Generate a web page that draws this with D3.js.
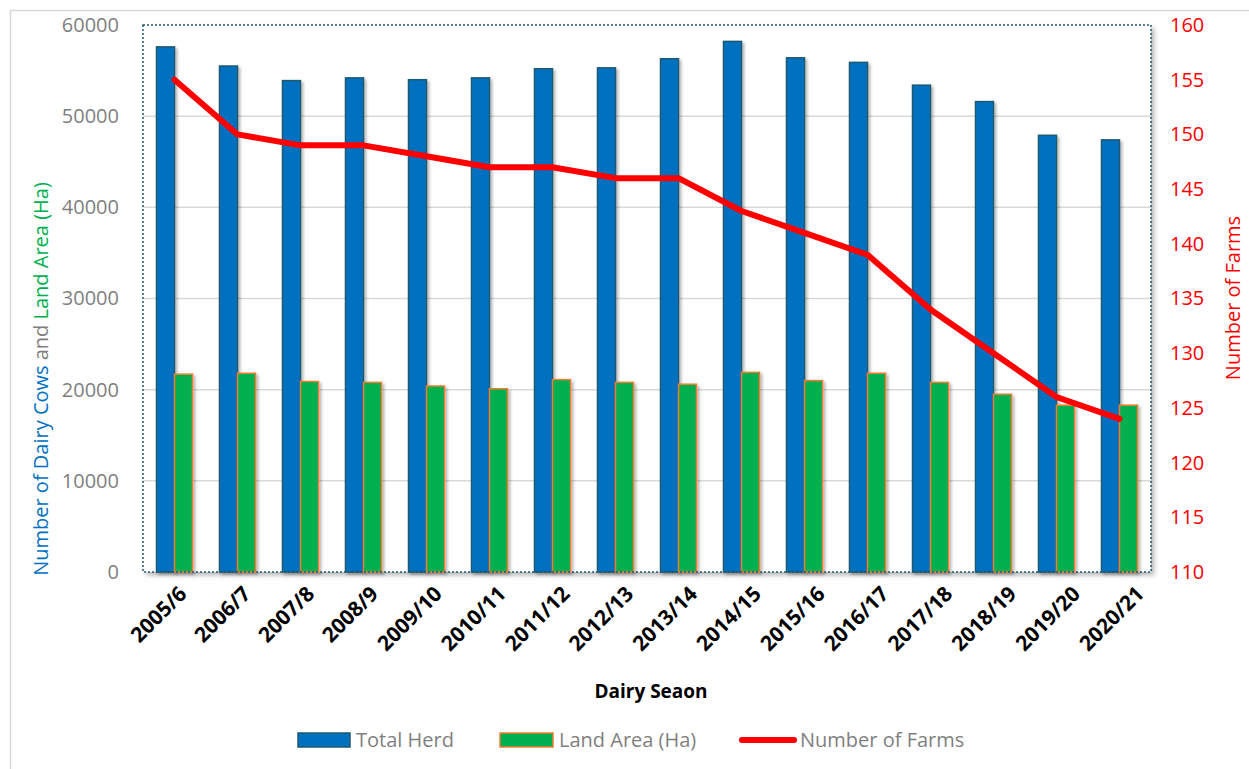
<!DOCTYPE html>
<html>
<head>
<meta charset="utf-8">
<script src="https://cdn.jsdelivr.net/npm/d3@7"></script>
<style>
  html, body { margin: 0; padding: 0; background: #ffffff; }
  svg { display: block; font-family: "Open Sans", "Noto Sans", sans-serif; }
</style>
</head>
<body>
<svg id="chart" width="1249" height="769"></svg>
<script>
const categories = ["2005/6","2006/7","2007/8","2008/9","2009/10","2010/11","2011/12","2012/13",
                    "2013/14","2014/15","2015/16","2016/17","2017/18","2018/19","2019/20","2020/21"];
const totalHerd = [57600,55500,53900,54200,54000,54200,55200,55300,56300,58200,56400,55900,53400,51600,47900,47400];
const landArea  = [21700,21800,20900,20800,20400,20100,21100,20800,20600,21900,21000,21800,20800,19500,18300,18300];
const farms     = [155,150,149,149,148,147,147,146,146,143,141,139,134,130,126,124];
const leftTicks  = [0,10000,20000,30000,40000,50000,60000];
const rightTicks = [110,115,120,125,130,135,140,145,150,155,160];
const seriesNames = ["Total Herd","Land Area (Ha)","Number of Farms"];

const svg = d3.select("#chart");
const L = 143, R = 1151, T = 25, B = 572;

const defs = svg.append("defs");
const f1 = defs.append("filter").attr("id","shadow").attr("x","-20%").attr("y","-5%").attr("width","150%").attr("height","115%");
f1.append("feDropShadow").attr("dx",2).attr("dy",2).attr("stdDeviation",1.5).attr("flood-color","#000").attr("flood-opacity",0.3);
const f2 = defs.append("filter").attr("id","pshadow").attr("x","-5%").attr("y","-5%").attr("width","110%").attr("height","110%");
f2.append("feDropShadow").attr("dx",3).attr("dy",3).attr("stdDeviation",2.5).attr("flood-color","#000").attr("flood-opacity",0.3);

// outer chart border
svg.append("rect").attr("x",10.5).attr("y",10.5).attr("width",1260).attr("height",780)
  .attr("fill","none").attr("stroke","#D9D9D9").attr("stroke-width",1.5);

const x = d3.scaleBand().domain(categories).range([L, R]).padding(0);
const xLab = d3.scaleBand().domain(categories).range([L, R + 13]).padding(0);
const sub = d3.scaleBand().domain(["herd","land"]).range([0, 36]);
const y = d3.scaleLinear().domain([0, 60000]).range([B, T]);
const y2 = d3.scaleLinear().domain([110, 160]).range([B, T]);

// plot area with shadow
svg.append("rect").attr("x",L).attr("y",T).attr("width",R-L).attr("height",B-T)
  .attr("fill","#fff").attr("filter","url(#pshadow)");

// gridlines
svg.append("g").selectAll("line").data(leftTicks.filter(d => d > 0 && d < 60000)).join("line")
  .attr("x1",L).attr("x2",R).attr("y1",d => y(d)).attr("y2",d => y(d))
  .attr("stroke","#D9D9D9").attr("stroke-width",1.5);

// bars
const off = (x.bandwidth() - 36) / 2;
const gb = svg.append("g");
gb.selectAll("rect.herd").data(categories).join("rect").attr("class","herd")
  .attr("x",(d) => x(d) + off + sub("herd")).attr("width", sub.bandwidth())
  .attr("y",(d,i) => y(totalHerd[i])).attr("height",(d,i) => y(0) - y(totalHerd[i]))
  .attr("fill","#0070C0").attr("stroke","#1F5A70").attr("stroke-width",1.5).attr("filter","url(#shadow)");
gb.selectAll("rect.land").data(categories).join("rect").attr("class","land")
  .attr("x",(d) => x(d) + off + sub("land")).attr("width", sub.bandwidth())
  .attr("y",(d,i) => y(landArea[i])).attr("height",(d,i) => y(0) - y(landArea[i]))
  .attr("fill","#00B050").attr("stroke","#ED7D31").attr("stroke-width",1.5).attr("filter","url(#shadow)");

// plot border (dotted)
svg.append("rect").attr("x",L).attr("y",T).attr("width",R-L).attr("height",B-T)
  .attr("fill","none").attr("stroke","#1F5A70").attr("stroke-width",1.5).attr("stroke-dasharray","2,2");

// line
const line = d3.line().x((d,i) => x(categories[i]) + x.bandwidth()/2).y(d => y2(d));
svg.append("path").datum(farms).attr("d", line).attr("fill","none")
  .attr("stroke","#FF0000").attr("stroke-width",6).attr("stroke-linejoin","round").attr("stroke-linecap","round");

// left axis
const ax = svg.append("g").attr("transform",`translate(${L},0)`)
  .call(d3.axisLeft(y).tickValues(leftTicks).tickFormat(d3.format("d")).tickSize(0).tickPadding(24));
ax.select(".domain").remove();
ax.selectAll("text").attr("font-size",20).attr("fill","#7F7F7F").attr("font-family","Open Sans");

// right axis
const ar = svg.append("g").attr("transform",`translate(${R},0)`)
  .call(d3.axisRight(y2).tickValues(rightTicks).tickSize(0).tickPadding(19));
ar.select(".domain").remove();
ar.selectAll("text").attr("font-size",20).attr("fill","#FF0000").attr("font-family","Open Sans");

// bottom axis
const abx = svg.append("g").attr("transform",`translate(0,${B})`)
  .call(d3.axisBottom(xLab).tickSize(0));
abx.select(".domain").remove();
abx.selectAll("text").attr("x",0).attr("y",0).attr("dy","0.35em")
  .attr("transform","translate(8,18) rotate(-45)").attr("text-anchor","end")
  .attr("font-size",21).attr("font-weight","bold").attr("fill","#000").attr("font-family","Open Sans");

// axis titles
const lt = svg.append("text").attr("transform","translate(48,379) rotate(-90)")
  .attr("text-anchor","middle").attr("font-size",20);
lt.append("tspan").attr("fill","#0070C0").text("Number of Dairy Cows ");
lt.append("tspan").attr("fill","#7F7F7F").text("and ");
lt.append("tspan").attr("fill","#00B050").text("Land Area (Ha)");

svg.append("text").attr("transform","translate(1240,298) rotate(-90)")
  .attr("text-anchor","middle").attr("font-size",20).attr("fill","#FF0000").text("Number of Farms");

svg.append("text").attr("x",651).attr("y",698).attr("text-anchor","middle")
  .attr("font-size",19).attr("font-weight","bold").attr("fill","#000").text("Dairy Seaon");

// legend
const lg = svg.append("g");
lg.append("rect").attr("x",298).attr("y",733).attr("width",52).attr("height",14)
  .attr("fill","#0070C0").attr("stroke","#1F5A70").attr("stroke-width",1.5);
lg.append("text").attr("x",356).attr("y",740).attr("dy","0.35em").attr("font-size",20).attr("fill","#7F7F7F").text(seriesNames[0]);
lg.append("rect").attr("x",500).attr("y",733).attr("width",53).attr("height",14)
  .attr("fill","#00B050").attr("stroke","#ED7D31").attr("stroke-width",1.5);
lg.append("text").attr("x",559).attr("y",740).attr("dy","0.35em").attr("font-size",20).attr("fill","#7F7F7F").text(seriesNames[1]);
lg.append("line").attr("x1",742).attr("x2",794).attr("y1",740).attr("y2",740)
  .attr("stroke","#FF0000").attr("stroke-width",6).attr("stroke-linecap","round");
lg.append("text").attr("x",800).attr("y",740).attr("dy","0.35em").attr("font-size",20).attr("fill","#7F7F7F").text(seriesNames[2]);
</script>
</body>
</html>
